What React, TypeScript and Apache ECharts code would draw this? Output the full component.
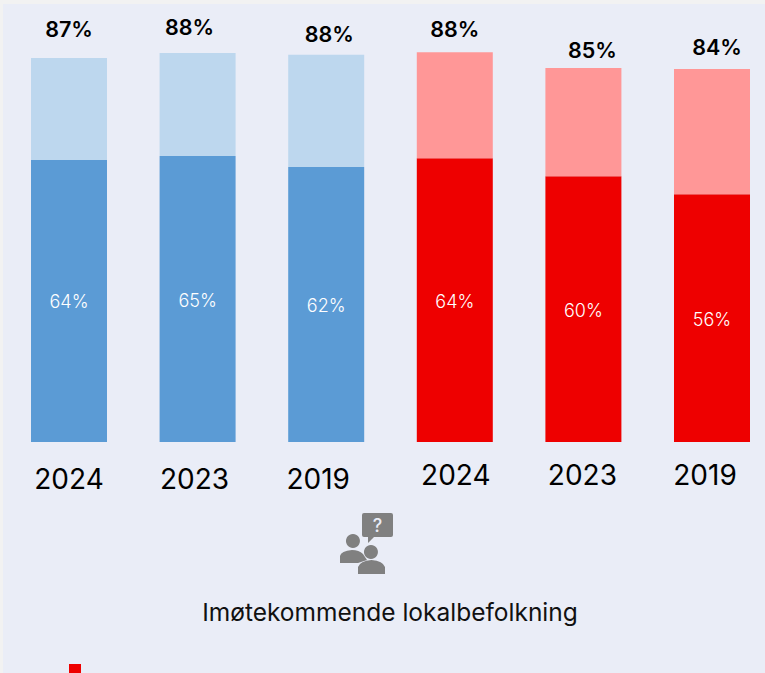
import React, { useEffect, useRef } from "react";
import * as echarts from "echarts";

const years = ["2024", "2023", "2019", "2024", "2023", "2019"];
const answeredPositive = [64.1, 65.0, 62.5, 64.5, 60.4, 56.3];
const answeredTotal = [87.3, 88.4, 88.0, 88.6, 85.0, 84.8];
const innerLabels = ["64%", "65%", "62%", "64%", "60%", "56%"];
const totalLabels = ["87%", "88%", "88%", "88%", "85%", "84%"];
const heading = "Imøtekommende lokalbefolkning";

const dark = ["#5b9bd5", "#5b9bd5", "#5b9bd5", "#ee0000", "#ee0000", "#ee0000"];
const light = ["#bdd7ee", "#bdd7ee", "#bdd7ee", "#ff9797", "#ff9797", "#ff9797"];
const totalOffsets = [[0, -4], [-8, -1], [3, 4], [0, 2], [9, 7], [5, 3]];
const yearShift = [
  [0, 4],
  [-3, 4],
  [-8, 4],
  [1, 0],
  [-1, 0],
  [-7, 0],
];
const FONT = "Inter";

const ICON =
  "M364 513H391Q393 513 393 515V535Q393 537 391 537H374L368 543V537H364Q362 537 362 535V515Q362 513 364 513Z" +
  "M353 534A7 7 0 1 1 352.9 534Z" +
  "M340 563V556Q341 551 352 550Q359 550 363 554L367 560L358 563Z" +
  "M371 545A7 7 0 1 1 370.9 545Z" +
  "M358 574V567Q360 561 371.5 560Q383 561 385 567V574Z";

export default function App() {
  const ref = useRef<HTMLDivElement>(null);
  useEffect(() => {
    document.body.style.margin = "0";
    echarts.graphic.registerShape("peopleIcon", echarts.graphic.extendPath(ICON, {}) as any);
    const chart = echarts.init(ref.current!, null, { renderer: "svg" });
    chart.setOption({
      animation: false,
      backgroundColor: "#f2f2f2",
      textStyle: { fontFamily: FONT },
      grid: { left: 69, top: 2, width: 643, height: 440, containLabel: false },
      xAxis: {
        type: "category",
        boundaryGap: false,
        data: years,
        axisLine: { show: false },
        axisTick: { show: false },
        axisLabel: {
          interval: 0,
          showMinLabel: true,
          showMaxLabel: true,
          margin: 19,
          color: "#000",
          fontFamily: FONT,
          fontSize: 28,
          formatter: (_v: string, i: number) => `{s${i}|${years[i]}}`,
          rich: Object.fromEntries(
            yearShift.map(([dx, dy], i) => [
              `s${i}`,
              {
                fontFamily: FONT,
                fontSize: 28,
                color: "#000",
                padding: [dy, dx < 0 ? -dx * 2 : 0, 0, dx > 0 ? dx * 2 : 0],
              },
            ]),
          ),
        },
      },
      yAxis: { type: "value", min: 0, max: 100, show: false },
      series: [
        {
          type: "bar",
          stack: "s",
          clip: false,
          barWidth: 76,
          data: answeredPositive.map((v, i) => ({
            value: v,
            itemStyle: { color: dark[i] },
            label: {
              show: true,
              position: "inside",
              offset: [0, 1],
              formatter: innerLabels[i],
              color: "#fff",
              fontFamily: FONT,
              fontSize: 18,
              fontWeight: 300,
            },
          })),
        },
        {
          type: "bar",
          stack: "s",
          clip: false,
          barWidth: 76,
          data: answeredTotal.map((t, i) => ({
            value: +(t - answeredPositive[i]).toFixed(1),
            itemStyle: { color: light[i] },
            label: {
              show: true,
              position: "top",
              distance: 14,
              offset: totalOffsets[i],
              formatter: totalLabels[i],
              color: "#000",
              fontFamily: FONT,
              fontSize: 21.5,
              fontWeight: 600,
            },
          })),
        },
      ],
      graphic: [
        {
          type: "rect",
          silent: true,
          z: -1,
          shape: { x: 3, y: 4, width: 762, height: 669 },
          style: { fill: "#eaedf7" },
        },
        { type: "peopleIcon", x: 0, y: 0, style: { fill: "#808080" } },
        {
          type: "text",
          x: 377.5,
          y: 525,
          style: { text: "?", fill: "#eaedf7", font: `500 18px ${FONT}`, textAlign: "center", textVerticalAlign: "middle" },
        },
        {
          type: "text",
          x: 390,
          y: 612,
          style: { text: heading, fill: "#111", font: `400 24.5px ${FONT}`, textAlign: "center", textVerticalAlign: "middle" },
        },
        { type: "rect", shape: { x: 69, y: 664, width: 12, height: 9 }, style: { fill: "#ee0000" } },
      ],
    });
    return () => chart.dispose();
  }, []);
  return <div ref={ref} style={{ position: "fixed", left: 0, top: 0, width: 765, height: 673 }} />;
}
